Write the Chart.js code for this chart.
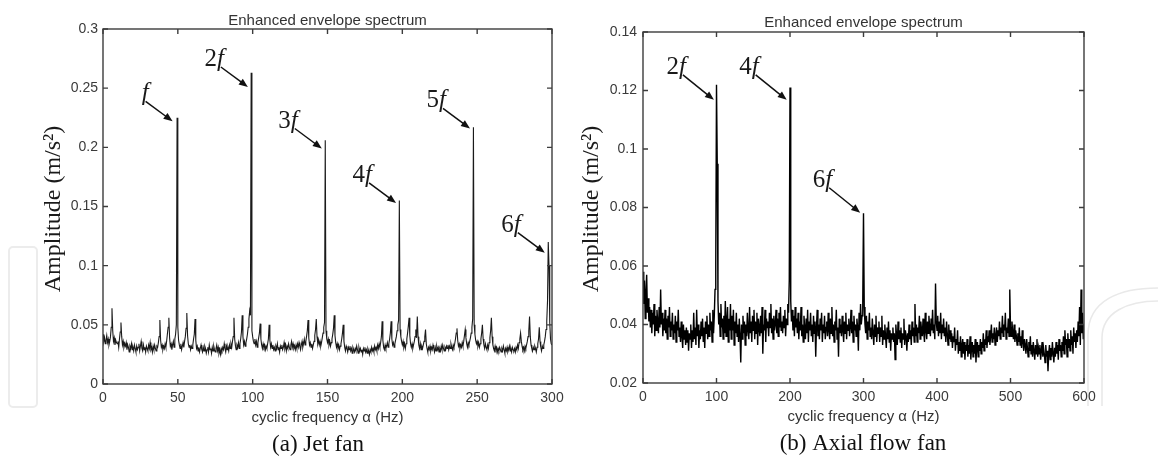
<!DOCTYPE html>
<html>
<head>
<meta charset="utf-8">
<script src="https://cdn.jsdelivr.net/npm/chart.js@4.4.1/dist/chart.umd.min.js"></script>
<style>
  html, body { margin: 0; padding: 0; background: #fff; }
  #wrap { position: relative; width: 1158px; height: 459px; overflow: hidden; }
  .panel { position: absolute; top: 0; height: 459px; }
  #panelA { left: 0; width: 580px; }
  #panelB { left: 580px; width: 578px; }
</style>
</head>
<body>
<div id="wrap">
  <div class="panel" id="panelA"><canvas id="chartA"></canvas></div>
  <div class="panel" id="panelB"><canvas id="chartB"></canvas></div>
</div>
<script>
// (a) Ventilador de chorro: espectro de 0 a 300 Hz, un valor cada 0.5 Hz
const jetFreqStep = 0.5;
const jetAmp = [
  0.042,0.036,0.039,0.034,0.037,0.041,0.035,0.038,0.033,0.036,
  0.040,0.048,0.064,0.045,0.036,0.039,0.033,0.037,0.035,0.034,
  0.036,0.031,0.038,0.044,0.052,0.040,0.033,0.036,0.031,0.034,
  0.032,0.035,0.029,0.033,0.031,0.027,0.032,0.030,0.034,0.029,
  0.031,0.028,0.033,0.030,0.027,0.032,0.029,0.031,0.034,0.028,
  0.032,0.036,0.030,0.028,0.033,0.029,0.031,0.027,0.032,0.030,
  0.028,0.033,0.030,0.035,0.029,0.031,0.027,0.032,0.029,0.033,
  0.030,0.028,0.032,0.031,0.035,0.040,0.054,0.037,0.031,0.033,
  0.029,0.032,0.030,0.034,0.031,0.036,0.042,0.048,0.056,0.039,
  0.032,0.034,0.029,0.033,0.036,0.031,0.038,0.042,0.050,0.225,
  0.048,0.037,0.033,0.030,0.034,0.029,0.032,0.035,0.031,0.036,
  0.040,0.047,0.060,0.041,0.034,0.031,0.033,0.029,0.032,0.030,
  0.033,0.038,0.042,0.055,0.037,0.030,0.032,0.028,0.031,0.027,
  0.030,0.033,0.029,0.027,0.031,0.028,0.032,0.030,0.026,0.029,
  0.031,0.027,0.033,0.029,0.030,0.026,0.031,0.028,0.032,0.029,
  0.027,0.030,0.033,0.028,0.031,0.026,0.029,0.025,0.030,0.028,
  0.031,0.029,0.034,0.030,0.027,0.032,0.029,0.031,0.028,0.033,
  0.030,0.034,0.031,0.036,0.040,0.056,0.038,0.032,0.029,0.033,
  0.031,0.035,0.030,0.034,0.038,0.044,0.058,0.040,0.033,0.036,
  0.032,0.035,0.038,0.042,0.048,0.055,0.062,0.058,0.263,0.045,
  0.040,0.036,0.034,0.038,0.033,0.036,0.031,0.035,0.039,0.043,
  0.051,0.038,0.033,0.030,0.034,0.031,0.033,0.029,0.032,0.030,
  0.034,0.038,0.050,0.037,0.031,0.034,0.030,0.033,0.029,0.031,
  0.028,0.032,0.030,0.034,0.029,0.031,0.027,0.032,0.030,0.033,
  0.029,0.031,0.035,0.030,0.033,0.028,0.032,0.030,0.034,0.031,
  0.029,0.033,0.036,0.031,0.034,0.030,0.032,0.029,0.033,0.030,
  0.034,0.031,0.035,0.032,0.029,0.033,0.036,0.031,0.034,0.038,
  0.033,0.036,0.040,0.045,0.054,0.039,0.033,0.035,0.031,0.034,
  0.030,0.033,0.036,0.041,0.046,0.055,0.040,0.034,0.037,0.033,
  0.036,0.032,0.035,0.039,0.043,0.048,0.052,0.206,0.045,0.038,
  0.035,0.038,0.033,0.036,0.032,0.035,0.038,0.042,0.047,0.058,
  0.041,0.035,0.031,0.034,0.030,0.033,0.029,0.032,0.034,0.038,
  0.043,0.050,0.036,0.031,0.028,0.032,0.030,0.027,0.031,0.029,
  0.032,0.028,0.030,0.026,0.031,0.029,0.027,0.030,0.028,0.032,
  0.029,0.026,0.031,0.028,0.030,0.027,0.029,0.025,0.030,0.028,
  0.031,0.027,0.029,0.026,0.030,0.028,0.025,0.029,0.027,0.031,
  0.028,0.030,0.027,0.032,0.029,0.031,0.028,0.033,0.030,0.034,
  0.031,0.035,0.040,0.053,0.037,0.031,0.029,0.033,0.030,0.032,
  0.035,0.031,0.034,0.038,0.043,0.053,0.038,0.033,0.035,0.031,
  0.034,0.037,0.040,0.045,0.050,0.054,0.155,0.046,0.040,0.036,
  0.033,0.036,0.031,0.034,0.030,0.034,0.038,0.043,0.049,0.056,
  0.041,0.034,0.031,0.034,0.030,0.033,0.036,0.040,0.046,0.039,
  0.057,0.040,0.033,0.030,0.034,0.029,0.032,0.030,0.033,0.036,
  0.040,0.046,0.034,0.030,0.027,0.031,0.029,0.032,0.028,0.031,
  0.029,0.033,0.030,0.027,0.031,0.028,0.032,0.029,0.031,0.027,
  0.030,0.028,0.032,0.029,0.033,0.030,0.028,0.031,0.029,0.032,
  0.030,0.033,0.029,0.032,0.030,0.034,0.031,0.029,0.033,0.031,
  0.034,0.038,0.043,0.047,0.037,0.032,0.034,0.030,0.033,0.031,
  0.035,0.032,0.036,0.041,0.046,0.039,0.034,0.031,0.035,0.033,
  0.036,0.039,0.043,0.048,0.055,0.217,0.050,0.042,0.037,0.034,
  0.036,0.032,0.035,0.031,0.034,0.038,0.043,0.050,0.038,0.033,
  0.030,0.034,0.031,0.029,0.033,0.030,0.035,0.039,0.045,0.056,
  0.040,0.033,0.030,0.028,0.032,0.029,0.031,0.027,0.030,0.028,
  0.031,0.029,0.027,0.030,0.028,0.032,0.029,0.026,0.030,0.028,
  0.031,0.027,0.029,0.032,0.028,0.030,0.027,0.031,0.029,0.028,
  0.030,0.027,0.031,0.029,0.033,0.030,0.035,0.038,0.043,0.036,
  0.032,0.029,0.031,0.028,0.032,0.030,0.033,0.036,0.040,0.045,
  0.057,0.040,0.033,0.030,0.028,0.031,0.029,0.032,0.030,0.027,
  0.031,0.034,0.038,0.048,0.036,0.031,0.028,0.032,0.030,0.033,
  0.036,0.040,0.046,0.053,0.070,0.120,0.100,0.052,0.038,0.034,
  0.033
];
const jetFreqTicks = [0, 50, 100, 150, 200, 250, 300];
const jetAmpTicks = [0, 0.05, 0.1, 0.15, 0.2, 0.25, 0.3];
const jetHarmonics = ['f', '2f', '3f', '4f', '5f', '6f'];
// punta de cada flecha (Hz, m/s²)
const jetArrowTips = [[46.5, 0.222], [96.8, 0.251], [146.2, 0.199], [195.8, 0.153], [245.2, 0.216], [295.2, 0.111]];

// (b) Ventilador axial: espectro de 0 a 600 Hz, un valor cada 1 Hz
const axialFreqStep = 1;
const axialAmp = [
  0.058,0.047,0.055,0.042,0.051,0.057,0.044,0.049,0.041,0.046,
  0.039,0.045,0.037,0.044,0.040,0.047,0.036,0.043,0.038,0.045,
  0.041,0.037,0.046,0.039,0.052,0.040,0.044,0.036,0.042,0.038,
  0.045,0.037,0.042,0.035,0.043,0.039,0.046,0.036,0.041,0.038,
  0.044,0.035,0.040,0.037,0.043,0.034,0.041,0.038,0.045,0.036,
  0.039,0.034,0.041,0.036,0.032,0.040,0.035,0.038,0.033,0.039,
  0.034,0.038,0.031,0.037,0.035,0.040,0.032,0.038,0.034,0.044,
  0.035,0.039,0.033,0.045,0.036,0.040,0.032,0.038,0.035,0.041,
  0.036,0.042,0.034,0.039,0.032,0.041,0.037,0.043,0.035,0.040,
  0.036,0.044,0.038,0.041,0.034,0.045,0.037,0.043,0.052,0.061,
  0.122,0.095,0.048,0.040,0.044,0.036,0.047,0.039,0.042,0.035,
  0.043,0.037,0.048,0.036,0.041,0.046,0.034,0.042,0.038,0.047,
  0.035,0.043,0.038,0.045,0.033,0.041,0.037,0.044,0.036,0.040,
  0.034,0.042,0.036,0.027,0.040,0.035,0.043,0.037,0.041,0.033,
  0.040,0.036,0.044,0.038,0.035,0.046,0.037,0.041,0.034,0.043,
  0.038,0.045,0.035,0.041,0.037,0.044,0.033,0.042,0.039,0.036,
  0.043,0.037,0.046,0.030,0.040,0.038,0.045,0.034,0.042,0.039,
  0.041,0.036,0.044,0.039,0.047,0.037,0.042,0.035,0.043,0.038,
  0.040,0.045,0.037,0.042,0.036,0.044,0.039,0.046,0.038,0.041,
  0.037,0.043,0.039,0.045,0.036,0.042,0.040,0.047,0.044,0.055,
  0.121,0.048,0.041,0.045,0.038,0.043,0.036,0.046,0.039,0.042,
  0.037,0.044,0.035,0.041,0.038,0.046,0.036,0.040,0.034,0.043,
  0.039,0.035,0.042,0.037,0.045,0.034,0.041,0.038,0.044,0.036,
  0.040,0.034,0.043,0.037,0.041,0.029,0.039,0.045,0.036,0.040,
  0.035,0.042,0.038,0.044,0.034,0.040,0.037,0.043,0.035,0.039,
  0.041,0.036,0.044,0.038,0.035,0.042,0.037,0.046,0.036,0.040,
  0.034,0.041,0.038,0.045,0.035,0.039,0.029,0.042,0.037,0.040,
  0.036,0.043,0.038,0.034,0.041,0.037,0.044,0.035,0.040,0.038,
  0.042,0.036,0.039,0.045,0.037,0.041,0.034,0.043,0.038,0.040,
  0.036,0.042,0.039,0.031,0.044,0.038,0.047,0.040,0.043,0.048,
  0.078,0.046,0.040,0.037,0.043,0.035,0.041,0.038,0.044,0.036,
  0.039,0.035,0.042,0.037,0.033,0.040,0.036,0.043,0.034,0.039,
  0.037,0.041,0.034,0.039,0.036,0.043,0.033,0.038,0.035,0.040,
  0.036,0.032,0.039,0.035,0.041,0.034,0.038,0.031,0.037,0.035,
  0.039,0.034,0.037,0.028,0.040,0.036,0.033,0.041,0.035,0.038,
  0.034,0.039,0.032,0.037,0.035,0.042,0.033,0.038,0.036,0.031,
  0.037,0.034,0.040,0.035,0.038,0.033,0.041,0.036,0.039,0.034,
  0.047,0.036,0.040,0.034,0.039,0.037,0.043,0.035,0.041,0.038,
  0.036,0.042,0.037,0.034,0.044,0.038,0.035,0.041,0.037,0.043,
  0.039,0.036,0.042,0.038,0.045,0.037,0.040,0.035,0.054,0.041,
  0.038,0.043,0.036,0.041,0.037,0.044,0.035,0.040,0.037,0.042,
  0.036,0.039,0.034,0.041,0.037,0.033,0.040,0.035,0.038,0.034,
  0.037,0.032,0.036,0.034,0.039,0.031,0.035,0.033,0.038,0.030,
  0.034,0.031,0.036,0.029,0.033,0.035,0.030,0.034,0.028,0.033,
  0.031,0.035,0.029,0.033,0.030,0.036,0.028,0.032,0.034,0.029,
  0.033,0.030,0.035,0.027,0.032,0.034,0.029,0.033,0.031,0.035,
  0.030,0.034,0.032,0.037,0.031,0.035,0.033,0.038,0.032,0.036,
  0.034,0.038,0.033,0.036,0.040,0.034,0.037,0.035,0.039,0.033,
  0.036,0.039,0.034,0.038,0.036,0.041,0.035,0.039,0.037,0.043,
  0.036,0.040,0.038,0.044,0.035,0.039,0.037,0.042,0.036,0.052,
  0.039,0.036,0.041,0.037,0.035,0.040,0.034,0.038,0.036,0.033,
  0.037,0.034,0.039,0.033,0.036,0.032,0.038,0.034,0.031,0.035,
  0.033,0.030,0.035,0.032,0.029,0.034,0.031,0.036,0.030,0.033,
  0.029,0.034,0.031,0.028,0.033,0.030,0.035,0.029,0.032,0.030,
  0.033,0.028,0.031,0.034,0.029,0.032,0.030,0.027,0.033,0.029,
  0.031,0.024,0.030,0.033,0.028,0.032,0.029,0.034,0.030,0.027,
  0.032,0.029,0.034,0.030,0.033,0.028,0.035,0.031,0.033,0.029,
  0.034,0.031,0.036,0.030,0.038,0.033,0.035,0.029,0.037,0.032,
  0.035,0.031,0.038,0.033,0.036,0.030,0.039,0.034,0.037,0.032,
  0.038,0.034,0.041,0.036,0.046,0.033,0.052,0.037,0.044,0.035,
  0.040
];
const axialFreqTicks = [0, 100, 200, 300, 400, 500, 600];
const axialAmpTicks = [0.02, 0.04, 0.06, 0.08, 0.1, 0.12, 0.14];
const axialHarmonics = ['2f', '4f', '6f'];
const axialArrowTips = [[96.5, 0.1168], [195.5, 0.1168], [295.5, 0.0782]];

const SANS = '"Liberation Sans", Arial, Helvetica, sans-serif';
const SERIF = '"Liberation Serif", "Times New Roman", serif';

// Formato de las etiquetas: 0.1 en vez de 0.10
function fmtTick(v) {
  return String(Number(v.toFixed(4)));
}

function toPoints(amp, step) {
  return amp.map((v, i) => ({ x: i * step, y: v }));
}

// Dibuja una flecha con punta rellena
function drawArrow(ctx, x0, y0, x1, y1) {
  const ang = Math.atan2(y1 - y0, x1 - x0);
  const head = 9, half = 3.6;
  ctx.beginPath();
  ctx.moveTo(x0, y0);
  ctx.lineTo(x1 - Math.cos(ang) * head * 0.8, y1 - Math.sin(ang) * head * 0.8);
  ctx.stroke();
  ctx.beginPath();
  ctx.moveTo(x1, y1);
  ctx.lineTo(x1 - Math.cos(ang) * head + Math.sin(ang) * half, y1 - Math.sin(ang) * head - Math.cos(ang) * half);
  ctx.lineTo(x1 - Math.cos(ang) * head - Math.sin(ang) * half, y1 - Math.sin(ang) * head + Math.cos(ang) * half);
  ctx.closePath();
  ctx.fill();
}

// Etiqueta tipo "2f": número recto y f en cursiva, alineada a la derecha
function drawHarmonic(ctx, text, xr, yb) {
  const num = text.slice(0, -1);
  ctx.font = '25px ' + SERIF;
  const wn = ctx.measureText(num).width;
  ctx.font = 'italic 25px ' + SERIF;
  const wf = ctx.measureText('f').width;
  const x0 = xr - wn - wf;
  ctx.textAlign = 'left';
  ctx.textBaseline = 'alphabetic';
  if (num) {
    ctx.font = '25px ' + SERIF;
    ctx.fillText(num, x0, yb);
  }
  ctx.font = 'italic 25px ' + SERIF;
  ctx.fillText('f', x0 + wn, yb);
}

// Marco tipo MATLAB, marcas hacia dentro, flechas y textos
function framePlugin(cfg) {
  return {
    id: 'marco' + cfg.key,
    beforeDraw(chart) {
      if (!cfg.watermark) return;
      const ctx = chart.ctx;
      ctx.save();
      cfg.watermark(ctx);
      ctx.restore();
    },
    afterDatasetsDraw(chart) {
      const { ctx, chartArea: a, scales: { x, y } } = chart;
      ctx.save();
      ctx.strokeStyle = '#3c3c3c';
      ctx.lineWidth = 1.4;
      ctx.strokeRect(a.left, a.top, a.right - a.left, a.bottom - a.top);
      ctx.beginPath();
      x.ticks.forEach(t => {
        const px = x.getPixelForValue(t.value);
        ctx.moveTo(px, a.bottom); ctx.lineTo(px, a.bottom - 5);
        ctx.moveTo(px, a.top); ctx.lineTo(px, a.top + 5);
      });
      y.ticks.forEach(t => {
        const py = y.getPixelForValue(t.value);
        ctx.moveTo(a.left, py); ctx.lineTo(a.left + 5, py);
        ctx.moveTo(a.right, py); ctx.lineTo(a.right - 5, py);
      });
      ctx.stroke();

      // flechas de los armónicos
      ctx.strokeStyle = '#111';
      ctx.fillStyle = '#111';
      ctx.lineWidth = 1.5;
      cfg.labels.forEach((lab, i) => {
        const tx = x.getPixelForValue(cfg.tips[i][0]);
        const ty = y.getPixelForValue(cfg.tips[i][1]);
        const sx = tx + cfg.tail[0], sy = ty + cfg.tail[1];
        drawArrow(ctx, sx, sy, tx, ty);
        ctx.fillStyle = '#1a1a1a';
        drawHarmonic(ctx, lab, sx + 3, sy - 1);
        ctx.fillStyle = '#111';
      });
      ctx.restore();
    },
    afterDraw(chart) {
      const { ctx, chartArea: a } = chart;
      const cx = (a.left + a.right) / 2;
      ctx.save();
      ctx.textAlign = 'center';
      ctx.textBaseline = 'middle';
      ctx.fillStyle = '#333';
      ctx.font = '15px ' + SANS;
      ctx.fillText('Enhanced envelope spectrum', cx, cfg.titleY);
      ctx.fillText('cyclic frequency \u03b1 (Hz)', cx, cfg.xTitleY);
      ctx.fillStyle = '#111';
      ctx.font = '23px ' + SERIF;
      ctx.fillText(cfg.caption, cfg.captionX, cfg.captionY);
      ctx.translate(cfg.yTitleX, cfg.yTitleY);
      ctx.rotate(-Math.PI / 2);
      ctx.textBaseline = 'alphabetic';
      ctx.fillStyle = '#1a1a1a';
      ctx.font = '24px ' + SERIF;
      ctx.fillText('Amplitude (m/s\u00b2)', 0, 0);
      ctx.restore();
    }
  };
}

function makeChart(canvasId, cfg) {
  const tickFont = { family: SANS, size: 14 };
  return new Chart(document.getElementById(canvasId), {
    type: 'line',
    data: {
      datasets: [{
        data: toPoints(cfg.amp, cfg.step),
        borderColor: cfg.lineColor,
        borderWidth: cfg.lineWidth,
        pointRadius: 0,
        tension: 0
      }]
    },
    options: {
      responsive: true,
      maintainAspectRatio: false,
      animation: false,
      events: [],
      layout: { padding: cfg.padding },
      plugins: { legend: { display: false }, tooltip: { enabled: false } },
      scales: {
        x: {
          type: 'linear',
          min: cfg.xTicks[0],
          max: cfg.xTicks[cfg.xTicks.length - 1],
          grid: { display: false, drawTicks: false },
          border: { display: false },
          afterBuildTicks: s => { s.ticks = cfg.xTicks.map(v => ({ value: v })); },
          afterFit: s => { s.height = 30; },
          ticks: { padding: 6, color: '#3a3a3a', font: tickFont, maxRotation: 0, autoSkip: false, callback: v => fmtTick(v) }
        },
        y: {
          min: cfg.yTicks[0],
          max: cfg.yTicks[cfg.yTicks.length - 1],
          grid: { display: false, drawTicks: false },
          border: { display: false },
          afterBuildTicks: s => { s.ticks = cfg.yTicks.map(v => ({ value: v })); },
          afterFit: s => { s.width = cfg.yWidth; },
          ticks: { padding: cfg.yPad, color: '#3a3a3a', font: tickFont, autoSkip: false, callback: v => fmtTick(v) }
        }
      }
    },
    plugins: [framePlugin(cfg)]
  });
}

makeChart('chartA', {
  key: 'A',
  amp: jetAmp, step: jetFreqStep,
  lineColor: '#1a1a1a', lineWidth: 1.1,
  xTicks: jetFreqTicks, yTicks: jetAmpTicks,
  labels: jetHarmonics, tips: jetArrowTips, tail: [-27, -20],
  padding: { left: 0, right: 28, top: 29, bottom: 45 },
  yWidth: 103, yPad: 5,
  titleY: 21, xTitleY: 418,
  caption: '(a) Jet fan', captionX: 318, captionY: 445,
  yTitleX: 60, yTitleY: 209,
  watermark: ctx => {
    ctx.strokeStyle = '#ececec';
    ctx.lineWidth = 2;
    ctx.beginPath();
    ctx.roundRect(9, 247, 28, 160, 4);
    ctx.stroke();
  }
});

makeChart('chartB', {
  key: 'B',
  amp: axialAmp, step: axialFreqStep,
  lineColor: '#000', lineWidth: 1.4,
  xTicks: axialFreqTicks, yTicks: axialAmpTicks,
  labels: axialHarmonics, tips: axialArrowTips, tail: [-31, -25],
  padding: { left: 0, right: 74, top: 32, bottom: 46 },
  yWidth: 63, yPad: 6,
  titleY: 23, xTitleY: 417,
  caption: '(b) Axial flow fan', captionX: 283, captionY: 444,
  yTitleX: 18, yTitleY: 209,
  watermark: ctx => {
    ctx.strokeStyle = '#e9e9e9';
    ctx.lineWidth = 1.6;
    ctx.beginPath();
    ctx.moveTo(508, 406);
    ctx.lineTo(508, 335);
    ctx.bezierCurveTo(508, 300, 540, 288, 578, 288);
    ctx.moveTo(522, 406);
    ctx.lineTo(522, 338);
    ctx.bezierCurveTo(522, 312, 548, 301, 578, 301);
    ctx.stroke();
  }
});
</script>
</body>
</html>
